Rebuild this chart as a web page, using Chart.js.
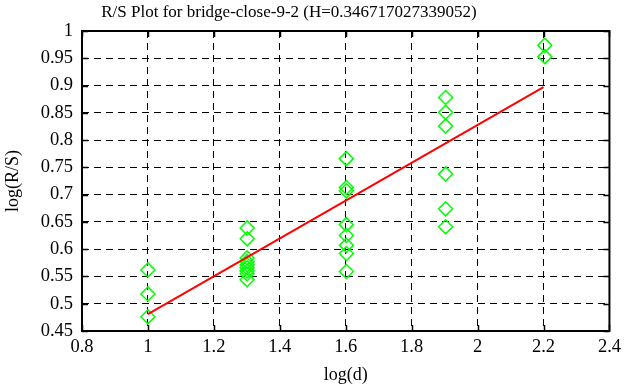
<!DOCTYPE html>
<html>
<head>
<meta charset="utf-8">
<script src="https://cdn.jsdelivr.net/npm/chart.js@4"></script>
<style>
  html, body { margin: 0; padding: 0; background: #fff; }
  #wrap { width: 626px; height: 387px; }
</style>
</head>
<body>
<div id="wrap"><canvas id="rsChart" width="626" height="387"></canvas></div>
<script>
// log(d) positions of the window sizes
const logD = [1, 1.301, 1.602, 1.903, 2.204];
// log(R/S) values per window size
const rs10 = [0.562, 0.518, 0.476];
const rs20 = [0.639, 0.619, 0.584, 0.577, 0.571, 0.566, 0.560, 0.555, 0.544];
const rs40 = [0.766, 0.713, 0.707, 0.645, 0.625, 0.607, 0.592, 0.559];
const rs80 = [0.878, 0.851, 0.826, 0.738, 0.674, 0.641];
const rs160 = [0.974, 0.953];
// fitted line end points
const fitX = [1, 2.2];
const fitY = [0.481, 0.897];

const titleText = 'R/S Plot for bridge-close-9-2 (H=0.346717027339052)';
const serif = "'Liberation Serif', 'DejaVu Serif', serif";

const groups = [rs10, rs20, rs40, rs80, rs160];
const points = [];
groups.forEach((g, i) => {
    g.forEach(v => points.push({ x: logD[i], y: v }));
});
const fitPoints = fitX.map((x, i) => ({ x: x, y: fitY[i] }));

// frame, inward ticks and title
const framePlugin = {
    id: 'frame',
    afterDatasetsDraw(chart) {
        const ctx = chart.ctx;
        const a = chart.chartArea;
        const xs = chart.scales.x, ys = chart.scales.y;
        ctx.save();
        ctx.strokeStyle = '#000';
        ctx.lineWidth = 1.5;
        ctx.beginPath();
        xs.ticks.forEach(t => {
            const px = Math.round(xs.getPixelForValue(t.value)) + 0.5;
            ctx.moveTo(px, a.bottom); ctx.lineTo(px, a.bottom - 6);
            ctx.moveTo(px, a.top); ctx.lineTo(px, a.top + 6);
        });
        ys.ticks.forEach(t => {
            const py = Math.round(ys.getPixelForValue(t.value)) + 0.5;
            ctx.moveTo(a.left, py); ctx.lineTo(a.left + 6, py);
            ctx.moveTo(a.right, py); ctx.lineTo(a.right - 6, py);
        });
        ctx.stroke();
        ctx.lineWidth = 2;
        ctx.strokeRect(a.left, a.top, a.right - a.left, a.bottom - a.top);
        ctx.fillStyle = '#000';
        ctx.font = '17px ' + serif;
        ctx.textAlign = 'center';
        ctx.textBaseline = 'middle';
        ctx.fillText(titleText, 289, 13);
        ctx.restore();
    }
};

new Chart(document.getElementById('rsChart'), {
    type: 'scatter',
    data: {
        datasets: [{
            label: 'R/S',
            data: points,
            pointStyle: 'rectRot',
            pointRadius: 7,
            pointHoverRadius: 7,
            borderColor: '#00ff00',
            backgroundColor: 'rgba(0,0,0,0)',
            borderWidth: 1.5,
            order: 2
        }, {
            label: 'fit',
            type: 'line',
            data: fitPoints,
            borderColor: '#ff0000',
            borderWidth: 2,
            pointRadius: 0,
            fill: false,
            order: 1
        }]
    },
    options: {
        responsive: false,
        animation: false,
        layout: { padding: { top: 31, right: 16, left: 0, bottom: 0 } },
        plugins: {
            legend: { display: false },
            tooltip: { enabled: false },
            title: { display: false }
        },
        scales: {
            x: {
                type: 'linear',
                min: 0.8,
                max: 2.4,
                afterFit(scale) { scale.height = 56; },
                ticks: {
                    stepSize: 0.2,
                    color: '#000',
                    font: { family: serif, size: 18.5 },
                    padding: 5,
                    maxRotation: 0,
                    callback: v => String(parseFloat(v.toFixed(2)))
                },
                grid: { color: '#000', lineWidth: 1, drawTicks: false },
                border: { display: false, dash: [7, 5] },
                title: {
                    display: true,
                    text: 'log(d)',
                    color: '#000',
                    font: { family: serif, size: 18 },
                    padding: { top: 0, bottom: 1 }
                }
            },
            y: {
                type: 'linear',
                min: 0.45,
                max: 1,
                afterFit(scale) { scale.width = 82; },
                ticks: {
                    stepSize: 0.05,
                    color: '#000',
                    font: { family: serif, size: 18.5 },
                    padding: 9,
                    callback: v => String(parseFloat(v.toFixed(2)))
                },
                grid: { color: '#000', lineWidth: 1, drawTicks: false },
                border: { display: false, dash: [7, 5] },
                title: {
                    display: true,
                    text: 'log(R/S)',
                    color: '#000',
                    font: { family: serif, size: 18 },
                    padding: { top: 2, bottom: 0 }
                }
            }
        }
    },
    plugins: [framePlugin]
});
</script>
</body>
</html>
